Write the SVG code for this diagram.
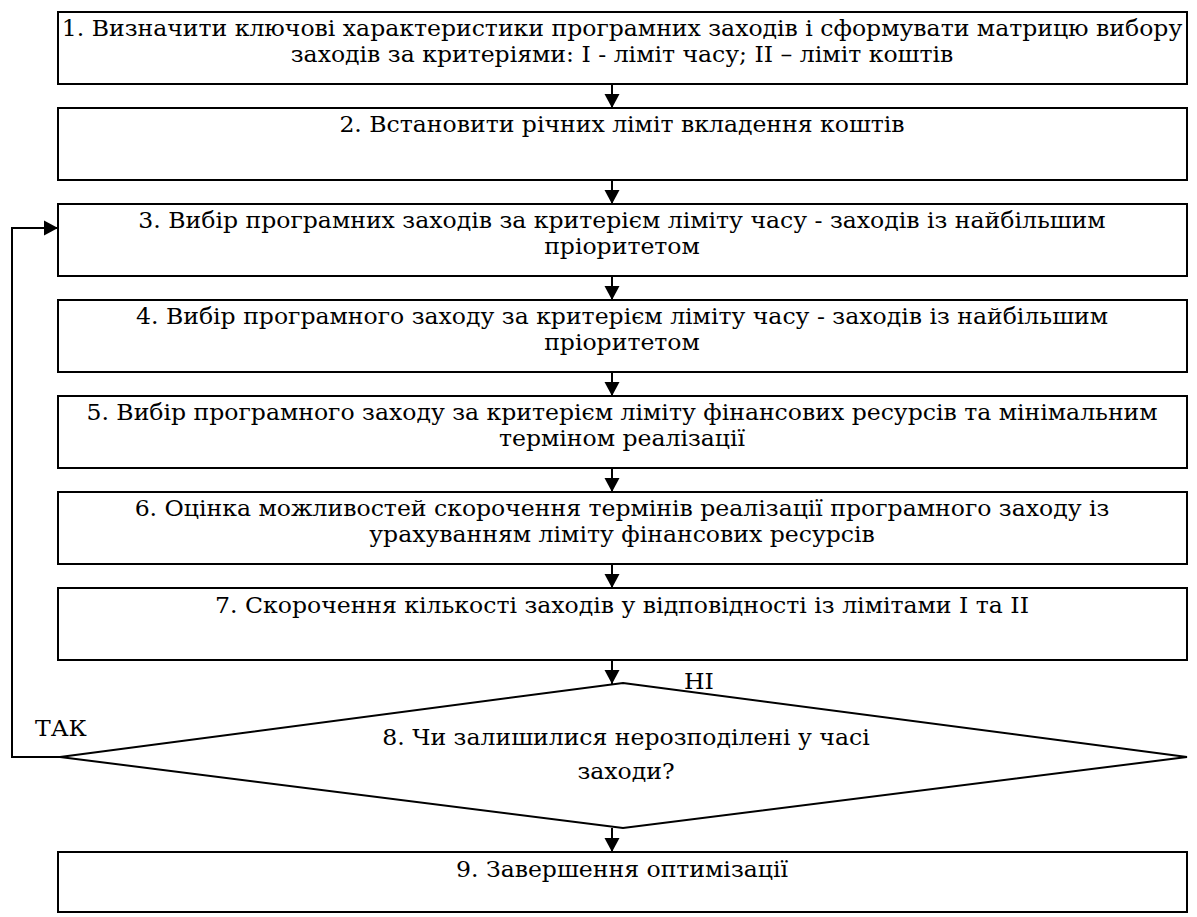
<svg xmlns="http://www.w3.org/2000/svg" width="1197" height="917" viewBox="0 0 1197 917">
  <style>
    .box { fill: #ffffff; stroke: #000000; stroke-width: 2; }
    .line { fill: none; stroke: #000000; stroke-width: 2; }
    text { font-family: "DejaVu Serif Condensed", "DejaVu Serif", "Liberation Serif", serif; font-stretch: condensed; font-size: 22px; fill: #000000; }
    .c { text-anchor: middle; }
  </style>
  <defs>
    <marker id="arrow" markerUnits="userSpaceOnUse" markerWidth="16" markerHeight="16" refX="14" refY="8" orient="auto">
      <path d="M0,0.5 L14,8 L0,15.5 Z" fill="#000000"/>
    </marker>
  </defs>
  <rect width="1197" height="917" fill="#ffffff"/>

  <g id="connectors">
    <line class="line" x1="612" y1="84" x2="612" y2="108" marker-end="url(#arrow)"/>
    <line class="line" x1="612" y1="180" x2="612" y2="204" marker-end="url(#arrow)"/>
    <line class="line" x1="612" y1="276" x2="612" y2="300" marker-end="url(#arrow)"/>
    <line class="line" x1="612" y1="372" x2="612" y2="396" marker-end="url(#arrow)"/>
    <line class="line" x1="612" y1="468" x2="612" y2="492" marker-end="url(#arrow)"/>
    <line class="line" x1="612" y1="564" x2="612" y2="588" marker-end="url(#arrow)"/>
    <line class="line" x1="612" y1="660" x2="612" y2="684" marker-end="url(#arrow)"/>
    <line class="line" x1="612" y1="828" x2="612" y2="852" marker-end="url(#arrow)"/>
    <polyline class="line" points="60,757 12,757 12,228 58,228" marker-end="url(#arrow)"/>
    <text transform="translate(684,689) scale(1.19,1)">НІ</text>
    <text transform="translate(35,736) scale(1.19,1)">ТАК</text>
  </g>

  <g id="step1">
    <rect class="box" x="58" y="12" width="1129" height="72"/>
    <text class="c" transform="translate(622,36) scale(1.19,1)">1. Визначити ключові характеристики програмних заходів і сформувати матрицю вибору</text>
    <text class="c" transform="translate(622,62) scale(1.19,1)">заходів за критеріями: I - ліміт часу; II – ліміт коштів</text>
  </g>
  <g id="step2">
    <rect class="box" x="58" y="108" width="1129" height="72"/>
    <text class="c" transform="translate(622,132) scale(1.19,1)">2. Встановити річних ліміт вкладення коштів</text>
  </g>
  <g id="step3">
    <rect class="box" x="58" y="204" width="1129" height="72"/>
    <text class="c" transform="translate(622,228) scale(1.19,1)">3. Вибір програмних заходів за критерієм ліміту часу - заходів із найбільшим</text>
    <text class="c" transform="translate(622,254) scale(1.19,1)">пріоритетом</text>
  </g>
  <g id="step4">
    <rect class="box" x="58" y="300" width="1129" height="72"/>
    <text class="c" transform="translate(622,324) scale(1.19,1)">4. Вибір програмного заходу за критерієм ліміту часу - заходів із найбільшим</text>
    <text class="c" transform="translate(622,350) scale(1.19,1)">пріоритетом</text>
  </g>
  <g id="step5">
    <rect class="box" x="58" y="396" width="1129" height="72"/>
    <text class="c" transform="translate(622,420) scale(1.19,1)">5. Вибір програмного заходу за критерієм ліміту фінансових ресурсів та мінімальним</text>
    <text class="c" transform="translate(622,446) scale(1.19,1)">терміном реалізації</text>
  </g>
  <g id="step6">
    <rect class="box" x="58" y="492" width="1129" height="72"/>
    <text class="c" transform="translate(622,516) scale(1.19,1)">6. Оцінка можливостей скорочення термінів реалізації програмного заходу із</text>
    <text class="c" transform="translate(622,542) scale(1.19,1)">урахуванням ліміту фінансових ресурсів</text>
  </g>
  <g id="step7">
    <rect class="box" x="58" y="588" width="1129" height="72"/>
    <text class="c" transform="translate(622,613) scale(1.19,1)">7. Скорочення кількості заходів у відповідності із лімітами І та ІІ</text>
  </g>
  <g id="step8">
    <polygon class="box" points="623,683 1187,757 623,828 60,757"/>
    <text class="c" transform="translate(626,745) scale(1.19,1)">8. Чи залишилися нерозподілені у часі</text>
    <text class="c" transform="translate(626,779) scale(1.19,1)">заходи?</text>
  </g>
  <g id="step9">
    <rect class="box" x="58" y="852" width="1129" height="60"/>
    <text class="c" transform="translate(622,877) scale(1.19,1)">9. Завершення оптимізації</text>
  </g>
</svg>
